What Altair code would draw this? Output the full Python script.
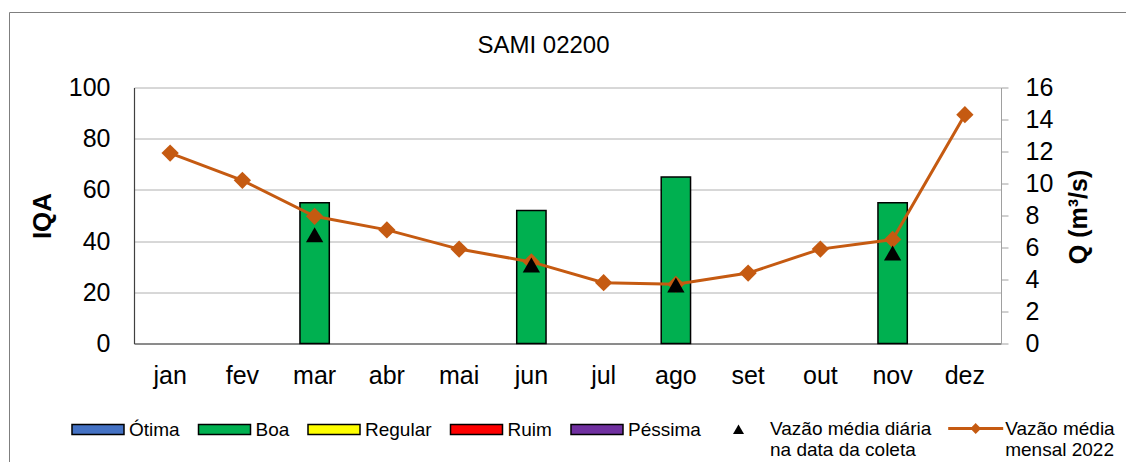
import altair as alt
import pandas as pd

titulo = "SAMI 02200"
meses = ["jan", "fev", "mar", "abr", "mai", "jun", "jul", "ago", "set", "out", "nov", "dez"]
vazao_mensal = [11.9, 10.2, 7.95, 7.1, 5.9, 5.1, 3.8, 3.7, 4.4, 5.9, 6.5, 14.3]
iqa = [None, None, 55, None, None, 52, None, 65, None, None, 55, None]
vazao_coleta = [None, None, 6.8, None, None, 4.9, None, 3.65, None, None, 5.65, None]
classes = ["Ótima", "Boa", "Regular", "Ruim", "Péssima"]
cores = ["#4472C4", "#00B050", "#FFFF00", "#FF0000", "#7030A0"]
classe_mes = [None, None, "Boa", None, None, "Boa", None, "Boa", None, None, "Boa", None]
serie_coleta = "Vazão média diária|na data da coleta"
serie_mensal_label = "Vazão média|mensal 2022"

df = pd.DataFrame({
    "mes": meses,
    "q": vazao_mensal,
    "iqa": iqa,
    "qc": vazao_coleta,
    "classe": classe_mes,
})
df["s1"] = serie_coleta
df["s2"] = serie_mensal_label

FONT = "Liberation Sans"
ORANGE = "#C55A11"
LEG_FS = 19

xenc = alt.X("mes:N", sort=meses,
             scale=alt.Scale(paddingInner=0.594, paddingOuter=0.297),
             axis=alt.Axis(title=None, labelAngle=0, labelFontSize=25, labelFont=FONT,
                           labelColor="black", ticks=False, tickSize=0, labelPadding=20,
                           domainColor="#404040", domainWidth=1.2, grid=False))

qaxis = alt.Axis(orient="right", title="Q (m³/s)", values=list(range(0, 17, 2)),
                 labelFontSize=25, labelFont=FONT, labelColor="black",
                 tickSize=7, tickColor="#a0a0a0", labelPadding=17,
                 domainColor="#a0a0a0", grid=False,
                 titleFont=FONT, titleFontSize=25, titleFontWeight="bold", titleColor="black",
                 titleAngle=270, titleX=77, titleY=129, titleAlign="center", titleBaseline="middle")
qscale = alt.Scale(domain=[0, 16], nice=False)

base = alt.Chart(df)

frame = alt.Chart(pd.DataFrame({"a": [0]})).mark_rect(
    fillOpacity=0, stroke="#7f7f7f", strokeWidth=1
).encode(x=alt.value(-124.5), x2=alt.value(1100), y=alt.value(-75), y2=alt.value(500))

title_mark = alt.Chart(pd.DataFrame({"t": [titulo]})).mark_text(
    font=FONT, fontSize=24, color="black", align="center", baseline="alphabetic"
).encode(text="t:N", x=alt.value(409.5), y=alt.value(-34.2))

swatch = "M-1,-0.192H1V0.192H-1Z"
bars = base.mark_bar(stroke="black", strokeWidth=1.5).encode(
    x=xenc,
    y=alt.Y("iqa:Q", scale=alt.Scale(domain=[0, 100], nice=False),
            axis=alt.Axis(title="IQA", values=list(range(0, 101, 20)),
                          labelFontSize=25, labelFont=FONT, labelColor="black",
                          ticks=False, tickSize=0, labelPadding=24,
                          domainColor="#404040", domainWidth=1.2,
                          grid=True, gridColor="#b0b0b0", gridWidth=1,
                          titleFont=FONT, titleFontSize=26, titleFontWeight="bold",
                          titleColor="black", titleAngle=270, titleX=-92, titleY=128,
                          titleAlign="center", titleBaseline="middle")),
    color=alt.Color("classe:N", scale=alt.Scale(domain=classes, range=cores),
                    legend=alt.Legend(title=None, orient="none", legendX=-63, legendY=315,
                                      direction="horizontal", symbolType=swatch,
                                      symbolSize=2704, symbolStrokeColor="black",
                                      symbolStrokeWidth=1.5, labelFontSize=LEG_FS,
                                      labelFont=FONT, labelColor="black", labelOffset=4,
                                      columnPadding=15.5, padding=0, labelLimit=300)),
)

line_sym = "M-1,0H1M0,-0.12L0.12,0L0,0.12L-0.12,0Z"
line = base.mark_line(strokeWidth=3).encode(
    x=xenc,
    y=alt.Y("q:Q", scale=qscale, axis=qaxis),
    stroke=alt.Stroke("s2:N", scale=alt.Scale(domain=[serie_mensal_label], range=[ORANGE]),
                      legend=alt.Legend(title=None, orient="none", legendX=812.7, legendY=312,
                                        symbolType=line_sym, symbolSize=3025,
                                        symbolStrokeWidth=3, symbolFillColor=ORANGE,
                                        labelExpr="split(datum.label, '|')",
                                        labelFontSize=LEG_FS, labelFont=FONT, labelColor="black",
                                        labelOffset=0.5, padding=0, labelLimit=300)),
)

diamonds = base.mark_point(shape="diamond", filled=True, size=300, color=ORANGE, opacity=1).encode(
    x=xenc,
    y=alt.Y("q:Q", scale=qscale, axis=qaxis),
)

tri_sym = "M0,-0.19L0.22,0.19L-0.22,0.19Z"
triangles = base.mark_point(shape="triangle-up", filled=True, size=300, opacity=1).encode(
    x=xenc,
    y=alt.Y("qc:Q", scale=qscale, axis=qaxis),
    fill=alt.Fill("s1:N", scale=alt.Scale(domain=[serie_coleta], range=["black"]),
                  legend=alt.Legend(title=None, orient="none", legendX=579.5, legendY=316.7,
                                    symbolType=tri_sym, symbolSize=2500, symbolStrokeWidth=0,
                                    labelExpr="split(datum.label, '|')",
                                    labelFontSize=LEG_FS, labelFont=FONT, labelColor="black",
                                    labelOffset=6.5, padding=0, labelLimit=300)),
).transform_filter("isValid(datum.qc)")

right = alt.layer(line, diamonds, triangles)

chart = alt.layer(frame, title_mark, bars, right).resolve_scale(y="independent").properties(
    width=867, height=256,
    autosize="none",
    padding={"left": 126, "top": 79.5, "right": 125, "bottom": 118.5},
).configure_view(stroke=None)

chart.save("out.html", embed_options={"renderer": "svg", "actions": False})
